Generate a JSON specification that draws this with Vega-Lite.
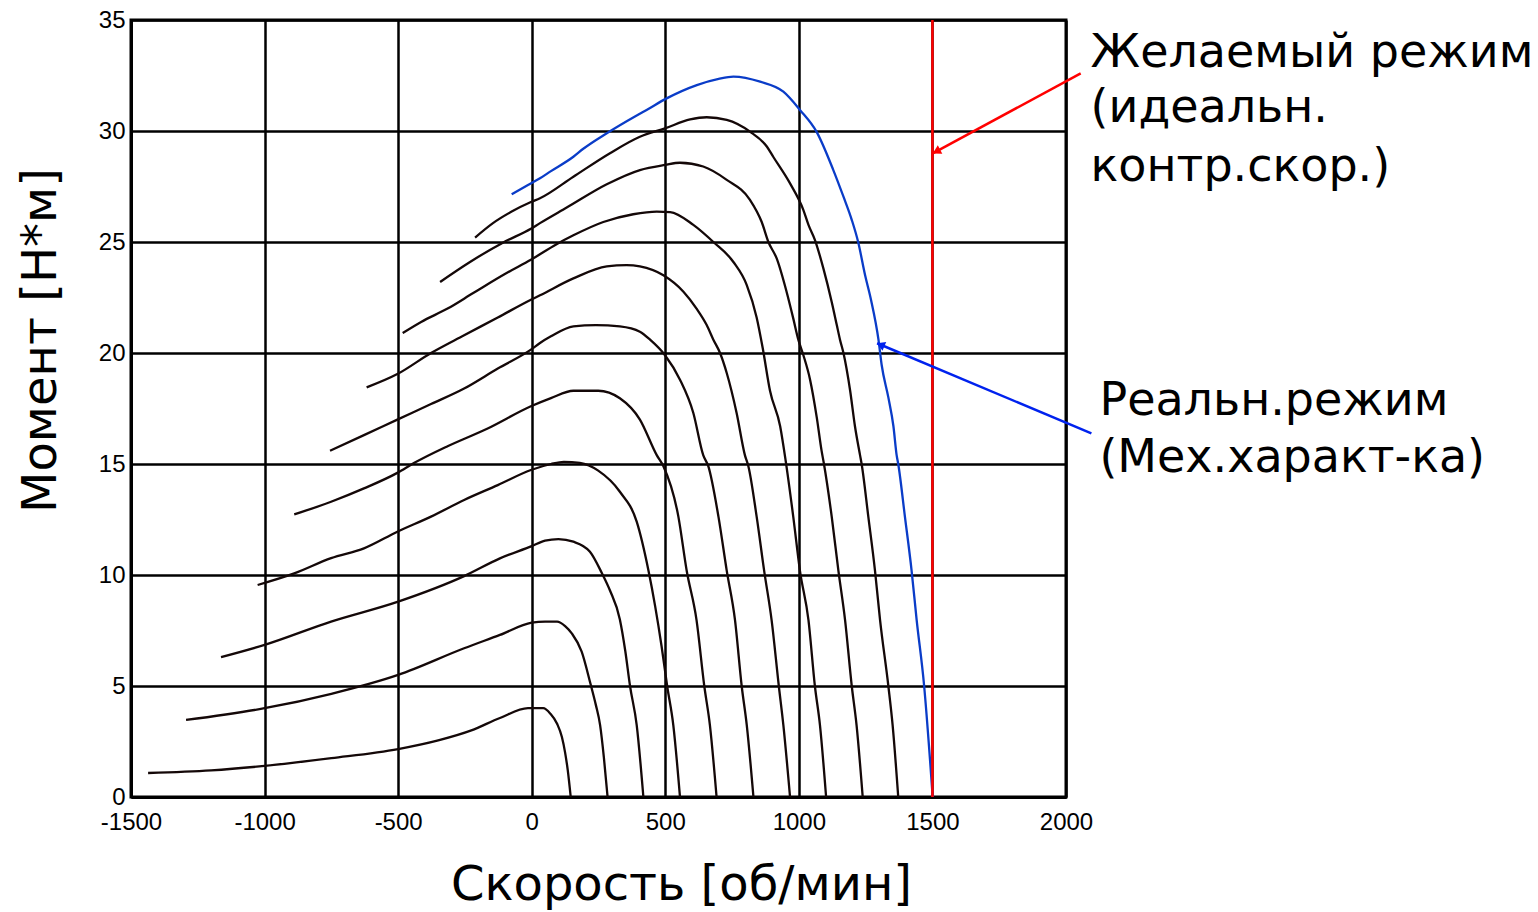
{
  "$schema": "https://vega.github.io/schema/vega-lite/v6.json",
  "autosize": {"type": "none"},
  "padding": {"left": 131, "top": 20, "right": 472, "bottom": 115},
  "width": 935,
  "height": 777,
  "background": "white",
  "config": {"view": {"stroke": "black", "strokeWidth": 3}},
  "datasets": {
    "curves": [
      {"curve":"c1","kind":"family","speed":-1436,"torque":1.08},{"curve":"c1","kind":"family","speed":-1200,"torque":1.2},{"curve":"c1","kind":"family","speed":-1000,"torque":1.4},{"curve":"c1","kind":"family","speed":-750,"torque":1.75},{"curve":"c1","kind":"family","speed":-500,"torque":2.16},{"curve":"c1","kind":"family","speed":-350,"torque":2.55},{"curve":"c1","kind":"family","speed":-226,"torque":3.0},{"curve":"c1","kind":"family","speed":-119,"torque":3.56},{"curve":"c1","kind":"family","speed":-14,"torque":4.0},{"curve":"c1","kind":"family","speed":43,"torque":4.0},{"curve":"c1","kind":"family","speed":70,"torque":3.75},{"curve":"c1","kind":"family","speed":95,"torque":3.3},{"curve":"c1","kind":"family","speed":113,"torque":2.7},{"curve":"c1","kind":"family","speed":125,"torque":2.0},{"curve":"c1","kind":"family","speed":135,"torque":1.2},{"curve":"c1","kind":"family","speed":146,"torque":0},
      {"curve":"c2","kind":"family","speed":-1294,"torque":3.47},{"curve":"c2","kind":"family","speed":-1000,"torque":4.0},{"curve":"c2","kind":"family","speed":-750,"torque":4.65},{"curve":"c2","kind":"family","speed":-500,"torque":5.5},{"curve":"c2","kind":"family","speed":-253,"torque":6.7},{"curve":"c2","kind":"family","speed":-119,"torque":7.3},{"curve":"c2","kind":"family","speed":0,"torque":7.85},{"curve":"c2","kind":"family","speed":50,"torque":7.9},{"curve":"c2","kind":"family","speed":95,"torque":7.9},{"curve":"c2","kind":"family","speed":125,"torque":7.7},{"curve":"c2","kind":"family","speed":150,"torque":7.37},{"curve":"c2","kind":"family","speed":187,"torque":6.55},{"curve":"c2","kind":"family","speed":220,"torque":5.1},{"curve":"c2","kind":"family","speed":240,"torque":4.15},{"curve":"c2","kind":"family","speed":256,"torque":3.24},{"curve":"c2","kind":"family","speed":270,"torque":1.8},{"curve":"c2","kind":"family","speed":284,"torque":0},
      {"curve":"c3","kind":"family","speed":-1163,"torque":6.3},{"curve":"c3","kind":"family","speed":-1000,"torque":6.85},{"curve":"c3","kind":"family","speed":-751,"torque":7.9},{"curve":"c3","kind":"family","speed":-500,"torque":8.8},{"curve":"c3","kind":"family","speed":-253,"torque":9.95},{"curve":"c3","kind":"family","speed":-119,"torque":10.75},{"curve":"c3","kind":"family","speed":0,"torque":11.3},{"curve":"c3","kind":"family","speed":50,"torque":11.55},{"curve":"c3","kind":"family","speed":100,"torque":11.62},{"curve":"c3","kind":"family","speed":156,"torque":11.5},{"curve":"c3","kind":"family","speed":218,"torque":11.05},{"curve":"c3","kind":"family","speed":262,"torque":10.1},{"curve":"c3","kind":"family","speed":293,"torque":9.3},{"curve":"c3","kind":"family","speed":330,"torque":8.0},{"curve":"c3","kind":"family","speed":350,"torque":6.6},{"curve":"c3","kind":"family","speed":368,"torque":5.0},{"curve":"c3","kind":"family","speed":393,"torque":3.24},{"curve":"c3","kind":"family","speed":418,"torque":0},
      {"curve":"c4","kind":"family","speed":-1026,"torque":9.55},{"curve":"c4","kind":"family","speed":-889,"torque":10.07},{"curve":"c4","kind":"family","speed":-751,"torque":10.76},{"curve":"c4","kind":"family","speed":-628,"torque":11.2},{"curve":"c4","kind":"family","speed":-503,"torque":11.95},{"curve":"c4","kind":"family","speed":-377,"torque":12.63},{"curve":"c4","kind":"family","speed":-253,"torque":13.38},{"curve":"c4","kind":"family","speed":-127,"torque":14.05},{"curve":"c4","kind":"family","speed":-3,"torque":14.73},{"curve":"c4","kind":"family","speed":72,"torque":15.0},{"curve":"c4","kind":"family","speed":120,"torque":15.1},{"curve":"c4","kind":"family","speed":180,"torque":15.05},{"curve":"c4","kind":"family","speed":249,"torque":14.7},{"curve":"c4","kind":"family","speed":330,"torque":13.75},{"curve":"c4","kind":"family","speed":393,"torque":12.4},{"curve":"c4","kind":"family","speed":437,"torque":10.2},{"curve":"c4","kind":"family","speed":462,"torque":8.6},{"curve":"c4","kind":"family","speed":486,"torque":6.8},{"curve":"c4","kind":"family","speed":507,"torque":5.0},{"curve":"c4","kind":"family","speed":530,"torque":3.24},{"curve":"c4","kind":"family","speed":555,"torque":0},
      {"curve":"c5","kind":"family","speed":-889,"torque":12.73},{"curve":"c5","kind":"family","speed":-751,"torque":13.3},{"curve":"c5","kind":"family","speed":-628,"torque":13.9},{"curve":"c5","kind":"family","speed":-503,"torque":14.6},{"curve":"c5","kind":"family","speed":-441,"torque":15.04},{"curve":"c5","kind":"family","speed":-315,"torque":15.8},{"curve":"c5","kind":"family","speed":-165,"torque":16.6},{"curve":"c5","kind":"family","speed":-3,"torque":17.6},{"curve":"c5","kind":"family","speed":72,"torque":17.97},{"curve":"c5","kind":"family","speed":156,"torque":18.3},{"curve":"c5","kind":"family","speed":249,"torque":18.3},{"curve":"c5","kind":"family","speed":330,"torque":17.96},{"curve":"c5","kind":"family","speed":405,"torque":17.0},{"curve":"c5","kind":"family","speed":468,"torque":15.4},{"curve":"c5","kind":"family","speed":493,"torque":14.9},{"curve":"c5","kind":"family","speed":549,"torque":12.63},{"curve":"c5","kind":"family","speed":580,"torque":10.2},{"curve":"c5","kind":"family","speed":617,"torque":7.97},{"curve":"c5","kind":"family","speed":646,"torque":5.0},{"curve":"c5","kind":"family","speed":667,"torque":3.24},{"curve":"c5","kind":"family","speed":692,"torque":0},
      {"curve":"c6","kind":"family","speed":-755,"torque":15.6},{"curve":"c6","kind":"family","speed":-628,"torque":16.3},{"curve":"c6","kind":"family","speed":-503,"torque":17.0},{"curve":"c6","kind":"family","speed":-377,"torque":17.7},{"curve":"c6","kind":"family","speed":-253,"torque":18.4},{"curve":"c6","kind":"family","speed":-127,"torque":19.3},{"curve":"c6","kind":"family","speed":-3,"torque":20.15},{"curve":"c6","kind":"family","speed":31,"torque":20.45},{"curve":"c6","kind":"family","speed":72,"torque":20.75},{"curve":"c6","kind":"family","speed":156,"torque":21.2},{"curve":"c6","kind":"family","speed":240,"torque":21.26},{"curve":"c6","kind":"family","speed":330,"torque":21.2},{"curve":"c6","kind":"family","speed":405,"torque":20.96},{"curve":"c6","kind":"family","speed":443,"torque":20.6},{"curve":"c6","kind":"family","speed":499,"torque":19.9},{"curve":"c6","kind":"family","speed":555,"torque":18.8},{"curve":"c6","kind":"family","speed":605,"torque":17.3},{"curve":"c6","kind":"family","speed":642,"torque":15.4},{"curve":"c6","kind":"family","speed":661,"torque":14.9},{"curve":"c6","kind":"family","speed":699,"torque":12.63},{"curve":"c6","kind":"family","speed":730,"torque":10.2},{"curve":"c6","kind":"family","speed":761,"torque":7.97},{"curve":"c6","kind":"family","speed":786,"torque":5.0},{"curve":"c6","kind":"family","speed":805,"torque":3.24},{"curve":"c6","kind":"family","speed":830,"torque":0},
      {"curve":"c7","kind":"family","speed":-618,"torque":18.45},{"curve":"c7","kind":"family","speed":-503,"torque":19.05},{"curve":"c7","kind":"family","speed":-377,"torque":20.0},{"curve":"c7","kind":"family","speed":-253,"torque":20.8},{"curve":"c7","kind":"family","speed":-127,"torque":21.6},{"curve":"c7","kind":"family","speed":-3,"torque":22.4},{"curve":"c7","kind":"family","speed":31,"torque":22.6},{"curve":"c7","kind":"family","speed":156,"torque":23.36},{"curve":"c7","kind":"family","speed":281,"torque":23.9},{"curve":"c7","kind":"family","speed":355,"torque":23.96},{"curve":"c7","kind":"family","speed":405,"torque":23.9},{"curve":"c7","kind":"family","speed":493,"torque":23.5},{"curve":"c7","kind":"family","speed":568,"torque":22.76},{"curve":"c7","kind":"family","speed":617,"torque":22.0},{"curve":"c7","kind":"family","speed":655,"torque":21.26},{"curve":"c7","kind":"family","speed":680,"torque":20.6},{"curve":"c7","kind":"family","speed":705,"torque":20.0},{"curve":"c7","kind":"family","speed":730,"torque":19.1},{"curve":"c7","kind":"family","speed":767,"torque":17.3},{"curve":"c7","kind":"family","speed":798,"torque":15.4},{"curve":"c7","kind":"family","speed":811,"torque":14.9},{"curve":"c7","kind":"family","speed":842,"torque":12.63},{"curve":"c7","kind":"family","speed":870,"torque":10.2},{"curve":"c7","kind":"family","speed":898,"torque":7.97},{"curve":"c7","kind":"family","speed":925,"torque":5.0},{"curve":"c7","kind":"family","speed":942,"torque":3.24},{"curve":"c7","kind":"family","speed":967,"torque":0},
      {"curve":"c8","kind":"family","speed":-483,"torque":20.9},{"curve":"c8","kind":"family","speed":-414,"torque":21.4},{"curve":"c8","kind":"family","speed":-315,"torque":22.0},{"curve":"c8","kind":"family","speed":-219,"torque":22.7},{"curve":"c8","kind":"family","speed":-94,"torque":23.6},{"curve":"c8","kind":"family","speed":-3,"torque":24.2},{"curve":"c8","kind":"family","speed":93,"torque":24.9},{"curve":"c8","kind":"family","speed":156,"torque":25.3},{"curve":"c8","kind":"family","speed":268,"torque":25.9},{"curve":"c8","kind":"family","speed":380,"torque":26.25},{"curve":"c8","kind":"family","speed":468,"torque":26.37},{"curve":"c8","kind":"family","speed":518,"torque":26.35},{"curve":"c8","kind":"family","speed":605,"torque":25.77},{"curve":"c8","kind":"family","speed":680,"torque":25.0},{"curve":"c8","kind":"family","speed":755,"torque":24.1},{"curve":"c8","kind":"family","speed":805,"torque":23.06},{"curve":"c8","kind":"family","speed":842,"torque":21.6},{"curve":"c8","kind":"family","speed":865,"torque":20.2},{"curve":"c8","kind":"family","speed":892,"torque":18.3},{"curve":"c8","kind":"family","speed":930,"torque":16.7},{"curve":"c8","kind":"family","speed":950,"torque":15.2},{"curve":"c8","kind":"family","speed":979,"torque":12.63},{"curve":"c8","kind":"family","speed":1004,"torque":10.2},{"curve":"c8","kind":"family","speed":1036,"torque":7.97},{"curve":"c8","kind":"family","speed":1060,"torque":5.0},{"curve":"c8","kind":"family","speed":1079,"torque":3.24},{"curve":"c8","kind":"family","speed":1102,"torque":0},
      {"curve":"c9","kind":"family","speed":-343,"torque":23.2},{"curve":"c9","kind":"family","speed":-231,"torque":24.1},{"curve":"c9","kind":"family","speed":-108,"torque":24.97},{"curve":"c9","kind":"family","speed":-3,"torque":25.6},{"curve":"c9","kind":"family","speed":31,"torque":25.85},{"curve":"c9","kind":"family","speed":131,"torque":26.55},{"curve":"c9","kind":"family","speed":281,"torque":27.6},{"curve":"c9","kind":"family","speed":405,"torque":28.24},{"curve":"c9","kind":"family","speed":499,"torque":28.47},{"curve":"c9","kind":"family","speed":555,"torque":28.57},{"curve":"c9","kind":"family","speed":642,"torque":28.4},{"curve":"c9","kind":"family","speed":730,"torque":27.8},{"curve":"c9","kind":"family","speed":817,"torque":26.9},{"curve":"c9","kind":"family","speed":861,"torque":25.9},{"curve":"c9","kind":"family","speed":886,"torque":25.0},{"curve":"c9","kind":"family","speed":917,"torque":24.26},{"curve":"c9","kind":"family","speed":954,"torque":22.76},{"curve":"c9","kind":"family","speed":979,"torque":21.56},{"curve":"c9","kind":"family","speed":998,"torque":20.6},{"curve":"c9","kind":"family","speed":1017,"torque":19.9},{"curve":"c9","kind":"family","speed":1042,"torque":18.8},{"curve":"c9","kind":"family","speed":1067,"torque":17.1},{"curve":"c9","kind":"family","speed":1085,"torque":15.6},{"curve":"c9","kind":"family","speed":1094,"torque":15.0},{"curve":"c9","kind":"family","speed":1123,"torque":12.63},{"curve":"c9","kind":"family","speed":1148,"torque":10.2},{"curve":"c9","kind":"family","speed":1173,"torque":7.97},{"curve":"c9","kind":"family","speed":1198,"torque":5.0},{"curve":"c9","kind":"family","speed":1216,"torque":3.24},{"curve":"c9","kind":"family","speed":1239,"torque":0},
      {"curve":"c10","kind":"family","speed":-212,"torque":25.2},{"curve":"c10","kind":"family","speed":-145,"torque":25.85},{"curve":"c10","kind":"family","speed":-75,"torque":26.37},{"curve":"c10","kind":"family","speed":-3,"torque":26.8},{"curve":"c10","kind":"family","speed":31,"torque":26.97},{"curve":"c10","kind":"family","speed":156,"torque":27.94},{"curve":"c10","kind":"family","speed":293,"torque":29.0},{"curve":"c10","kind":"family","speed":405,"torque":29.74},{"curve":"c10","kind":"family","speed":499,"torque":30.12},{"curve":"c10","kind":"family","speed":593,"torque":30.52},{"curve":"c10","kind":"family","speed":655,"torque":30.62},{"curve":"c10","kind":"family","speed":730,"torque":30.5},{"curve":"c10","kind":"family","speed":817,"torque":29.97},{"curve":"c10","kind":"family","speed":880,"torque":29.3},{"curve":"c10","kind":"family","speed":904,"torque":28.84},{"curve":"c10","kind":"family","speed":967,"torque":27.64},{"curve":"c10","kind":"family","speed":1017,"torque":26.44},{"curve":"c10","kind":"family","speed":1036,"torque":25.77},{"curve":"c10","kind":"family","speed":1060,"torque":25.1},{"curve":"c10","kind":"family","speed":1092,"torque":23.8},{"curve":"c10","kind":"family","speed":1123,"torque":22.3},{"curve":"c10","kind":"family","speed":1142,"torque":21.26},{"curve":"c10","kind":"family","speed":1154,"torque":20.6},{"curve":"c10","kind":"family","speed":1167,"torque":20.0},{"curve":"c10","kind":"family","speed":1192,"torque":18.3},{"curve":"c10","kind":"family","speed":1210,"torque":16.7},{"curve":"c10","kind":"family","speed":1229,"torque":15.4},{"curve":"c10","kind":"family","speed":1235,"torque":15.0},{"curve":"c10","kind":"family","speed":1260,"torque":12.63},{"curve":"c10","kind":"family","speed":1285,"torque":10.2},{"curve":"c10","kind":"family","speed":1304,"torque":7.97},{"curve":"c10","kind":"family","speed":1335,"torque":5.0},{"curve":"c10","kind":"family","speed":1351,"torque":3.24},{"curve":"c10","kind":"family","speed":1372,"torque":0},
      {"curve":"real","kind":"real","speed":-75,"torque":27.15},{"curve":"real","kind":"real","speed":-14,"torque":27.57},{"curve":"real","kind":"real","speed":31,"torque":27.87},{"curve":"real","kind":"real","speed":69,"torque":28.17},{"curve":"real","kind":"real","speed":156,"torque":28.84},{"curve":"real","kind":"real","speed":193,"torque":29.2},{"curve":"real","kind":"real","speed":281,"torque":29.9},{"curve":"real","kind":"real","speed":393,"torque":30.7},{"curve":"real","kind":"real","speed":430,"torque":30.95},{"curve":"real","kind":"real","speed":505,"torque":31.47},{"curve":"real","kind":"real","speed":618,"torque":32.07},{"curve":"real","kind":"real","speed":700,"torque":32.35},{"curve":"real","kind":"real","speed":755,"torque":32.45},{"curve":"real","kind":"real","speed":855,"torque":32.22},{"curve":"real","kind":"real","speed":942,"torque":31.77},{"curve":"real","kind":"real","speed":1004,"torque":30.95},{"curve":"real","kind":"real","speed":1067,"torque":29.95},{"curve":"real","kind":"real","speed":1129,"torque":28.24},{"curve":"real","kind":"real","speed":1167,"torque":27.04},{"curve":"real","kind":"real","speed":1198,"torque":26.0},{"curve":"real","kind":"real","speed":1222,"torque":25.0},{"curve":"real","kind":"real","speed":1248,"torque":23.5},{"curve":"real","kind":"real","speed":1270,"torque":22.4},{"curve":"real","kind":"real","speed":1298,"torque":20.6},{"curve":"real","kind":"real","speed":1310,"torque":19.46},{"curve":"real","kind":"real","speed":1335,"torque":18.0},{"curve":"real","kind":"real","speed":1354,"torque":16.7},{"curve":"real","kind":"real","speed":1366,"torque":15.4},{"curve":"real","kind":"real","speed":1372,"torque":15.0},{"curve":"real","kind":"real","speed":1397,"torque":12.63},{"curve":"real","kind":"real","speed":1422,"torque":10.2},{"curve":"real","kind":"real","speed":1441,"torque":7.97},{"curve":"real","kind":"real","speed":1469,"torque":5.0},{"curve":"real","kind":"real","speed":1491,"torque":1.67},{"curve":"real","kind":"real","speed":1501,"torque":0}
    ],
    "setpoint": [{"speed": 1500, "torque": 0, "torque2": 35}],
    "arrows": [
      {"arrow": "desired", "speed": 2055, "torque": 32.6, "speed2": 1503, "torque2": 29.0},
      {"arrow": "real", "speed": 2095, "torque": 16.38, "speed2": 1293, "torque2": 20.44}
    ],
    "heads": [
      {"arrow": "desired", "speed": 1515, "torque": 29.08},
      {"arrow": "real", "speed": 1306, "torque": 20.37}
    ],
    "labels": [
      {"label": "Желаемый режим", "speed": 2092, "torque": 32.88},
      {"label": "(идеальн.", "speed": 2092, "torque": 30.42},
      {"label": "контр.скор.)", "speed": 2092, "torque": 27.75},
      {"label": "Реальн.режим", "speed": 2125, "torque": 17.2},
      {"label": "(Мех.характ-ка)", "speed": 2125, "torque": 14.65}
    ]
  },
  "encoding": {
    "x": {
      "field": "speed", "type": "quantitative",
      "scale": {"domain": [-1500, 2000], "nice": false, "zero": false},
      "axis": {
        "values": [-1500, -1000, -500, 0, 500, 1000, 1500, 2000],
        "labelExpr": "'' + datum.value",
        "grid": true, "gridColor": "black", "gridWidth": 2.5, "gridOpacity": 1,
        "domainColor": "black", "domainWidth": 3, "ticks": false,
        "labelFont": "Liberation Sans", "labelFontSize": 24, "labelColor": "black",
        "labelPadding": 13, "labelFlush": false, "labelOverlap": false,
        "title": "Скорость [об/мин]", "titleFont": "DejaVu Sans", "titleFontSize": 48,
        "titleFontWeight": "normal", "titleColor": "black",
        "titleX": 550, "titleY": 102, "titleBaseline": "alphabetic", "titleAlign": "center"
      }
    },
    "y": {
      "field": "torque", "type": "quantitative",
      "scale": {"domain": [0, 35], "nice": false, "zero": false},
      "axis": {
        "values": [0, 5, 10, 15, 20, 25, 30, 35],
        "labelExpr": "'' + datum.value",
        "grid": true, "gridColor": "black", "gridWidth": 2.5, "gridOpacity": 1,
        "domainColor": "black", "domainWidth": 3, "ticks": false,
        "labelFont": "Liberation Sans", "labelFontSize": 24, "labelColor": "black",
        "labelPadding": 6, "labelFlush": false, "labelOverlap": false,
        "title": "Момент [Н*м]", "titleFont": "DejaVu Sans", "titleFontSize": 48,
        "titleFontWeight": "normal", "titleColor": "black", "titleAngle": 270,
        "titleX": -76, "titleY": 320, "titleBaseline": "alphabetic", "titleAlign": "center"
      }
    }
  },
  "layer": [
    {
      "data": {"name": "curves"},
      "mark": {"type": "line", "strokeWidth": 2.3, "interpolate": "monotone"},
      "encoding": {
        "detail": {"field": "curve", "type": "nominal"},
        "color": {"field": "kind", "type": "nominal", "scale": {"domain": ["family", "real"], "range": ["#140808", "#0a3cc8"]}, "legend": null}
      }
    },
    {
      "data": {"name": "setpoint"},
      "mark": {"type": "rule", "color": "#ff0000", "strokeWidth": 2.5},
      "encoding": {"y2": {"field": "torque2"}}
    },
    {
      "data": {"name": "arrows"},
      "transform": [{"filter": "datum.arrow === 'desired'"}],
      "mark": {"type": "rule", "color": "#ff0000", "strokeWidth": 2.5},
      "encoding": {"x2": {"field": "speed2"}, "y2": {"field": "torque2"}}
    },
    {
      "data": {"name": "arrows"},
      "transform": [{"filter": "datum.arrow === 'real'"}],
      "mark": {"type": "rule", "color": "#0022ee", "strokeWidth": 2.5},
      "encoding": {"x2": {"field": "speed2"}, "y2": {"field": "torque2"}}
    },
    {
      "data": {"name": "heads"},
      "transform": [{"filter": "datum.arrow === 'desired'"}],
      "mark": {"type": "point", "shape": "triangle-up", "filled": true, "size": 90, "angle": 241.6, "color": "#ff0000", "opacity": 1}
    },
    {
      "data": {"name": "heads"},
      "transform": [{"filter": "datum.arrow === 'real'"}],
      "mark": {"type": "point", "shape": "triangle-up", "filled": true, "size": 90, "angle": 292.8, "color": "#0022ee", "opacity": 1}
    },
    {
      "data": {"name": "labels"},
      "mark": {"type": "text", "align": "left", "baseline": "alphabetic", "font": "DejaVu Sans", "fontSize": 46, "color": "black"},
      "encoding": {"text": {"field": "label"}}
    }
  ]
}
